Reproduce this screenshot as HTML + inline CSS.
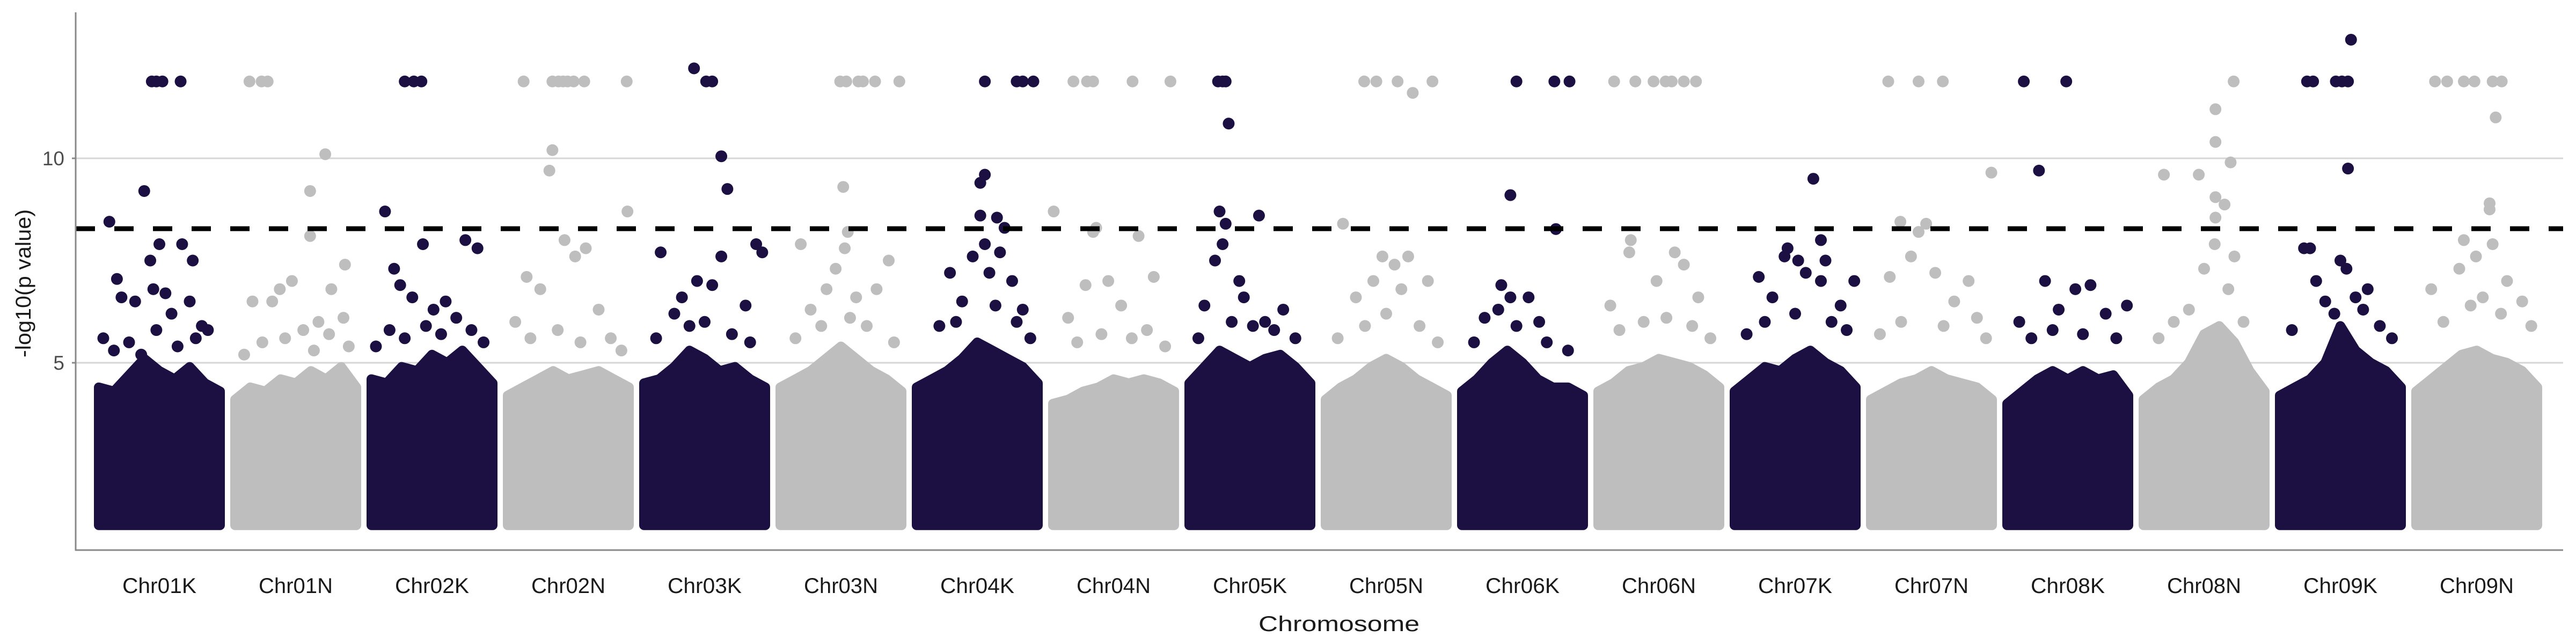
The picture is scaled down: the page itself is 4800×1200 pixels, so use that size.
<!DOCTYPE html>
<html><head><meta charset="utf-8">
<style>
html,body{margin:0;padding:0;background:#fff;}
svg{display:block;font-family:"Liberation Sans",sans-serif;}
</style></head>
<body>
<svg id="chart" width="4800" height="1200" viewBox="0 0 4800 1200" xmlns="http://www.w3.org/2000/svg"></svg>
<script>
const chromosomes = ["Chr01K","Chr01N","Chr02K","Chr02N","Chr03K","Chr03N","Chr04K","Chr04N","Chr05K","Chr05N","Chr06K","Chr06N","Chr07K","Chr07N","Chr08K","Chr08N","Chr09K","Chr09N"];
const yTicks = [5, 10];
const threshold = 8.28;
const capValue = 11.88;
const minValue = 1.0;
// positions are relative within chromosome (0-80 units)
const topHits = [
 [35,38,42,54],[9.5,17.5,21.5],[22,28,33],[10.5,29.5,33.5,36.5,39.5,43.5,50.5,78.5],
 [41,45],[39.5,43.5,51.5,54.5,62.5,78.5],[45,66,70,77],[13.5,22.5,26.5,52.5,77.5],
 [19,22,24],[25.5,33.5,47.5,70.5],[36,61,71],[10.5,24.5,36.5,44.5,48.5,56.5,64.5],
 [],[11.5,31.5,47.5],[11,39],[59.5],[18,22,37,41,45],[12.5,20.5,31.5,38.5,50.5,56.5]
];
const otherHits = [
 [[30,9.2],[7,8.45],[12,7.05],[40,7.9],[55,7.9],[62,7.5],[34,7.5],[36,6.8],[44,6.7],[15,6.6],[60,6.5],[68,5.9],[48,6.2],[24,6.5],[3,5.6],[72,5.8],[10,5.3],[20,5.5],[38,5.8],[52,5.4],[64,5.6],[28,5.2]],
 [[59.5,10.1],[49.5,9.2],[49.5,8.1],[72.5,7.4],[37.5,7.0],[29.5,6.8],[63.5,6.8],[24.5,6.5],[71.5,6.1],[11.5,6.5],[55,6.0],[45,5.8],[18,5.5],[33,5.6],[62,5.7],[75,5.4],[6,5.2],[52,5.3]],
 [[9,8.7],[34,7.9],[70,7.8],[62,8.0],[15,7.3],[19,6.9],[27,6.6],[49,6.5],[41,6.3],[56,6.1],[3,5.4],[12,5.8],[22,5.6],[36,5.9],[46,5.7],[66,5.8],[74,5.5]],
 [[29.5,10.2],[27.5,9.7],[79,8.7],[12.5,7.1],[37.5,8.0],[51.5,7.8],[44.5,7.6],[21.5,6.8],[60,6.3],[5,6.0],[15,5.6],[33,5.8],[48,5.5],[68,5.6],[75,5.3]],
 [[33,12.2],[51,10.05],[55,9.25],[11,7.7],[51,7.6],[74,7.9],[78,7.7],[35,7.0],[25,6.6],[67,6.4],[45,6.9],[20,6.2],[8,5.6],[30,5.9],[40,6.0],[58,5.7],[70,5.5]],
 [[41.5,9.3],[13.5,7.9],[42.5,7.8],[44.5,8.2],[36.5,7.3],[71.5,7.5],[30.5,6.8],[63.5,6.8],[20,6.3],[50,6.6],[10,5.6],[27,5.9],[46,6.1],[57,5.9],[75,5.5]],
 [[45,9.6],[42,9.4],[53,8.55],[58,8.3],[42,8.6],[45,7.9],[37,7.6],[55,7.7],[22,7.2],[63,7.0],[48,7.2],[30,6.5],[70,6.3],[15,5.9],[26,6.0],[52,6.4],[66,6.0],[75,5.6]],
 [[0.5,8.7],[28.5,8.3],[26.5,8.2],[56.5,8.1],[36.5,7.0],[66.5,7.1],[21.5,6.9],[45,6.4],[10,6.1],[16,5.5],[32,5.7],[52,5.6],[62,5.8],[74,5.4]],
 [[26,10.85],[20,8.7],[24,8.4],[46,8.6],[22,7.9],[17,7.5],[33,7.0],[36,6.6],[62,6.3],[10,6.4],[50,6.0],[6,5.6],[28,6.0],[42,5.9],[56,5.8],[70,5.6]],
 [[57.5,11.6],[11.5,8.4],[37.5,7.6],[45.5,7.4],[54.5,7.6],[67.5,7.0],[31.5,7.0],[20,6.6],[50,6.8],[8,5.6],[26,5.9],[40,6.2],[62,5.9],[74,5.5]],
 [[32,9.1],[62,8.27],[26,6.9],[32,6.6],[24,6.3],[44,6.6],[51,6.0],[15,6.1],[8,5.5],[36,5.9],[56,5.5],[70,5.3]],
 [[21.5,8.0],[20.5,7.7],[50.5,7.7],[56.5,7.4],[38.5,7.0],[8,6.4],[66,6.6],[14,5.8],[30,6.0],[45,6.1],[62,5.9],[74,5.6]],
 [[52,9.5],[57,8.0],[42,7.5],[35,7.8],[33,7.6],[47,7.2],[60,7.5],[16,7.1],[79,7.0],[57,7.0],[25,6.6],[70,6.4],[8,5.7],[20,6.0],[40,6.2],[64,6.0],[74,5.8]],
 [[79.5,9.65],[19.5,8.45],[31.5,8.2],[36.5,8.4],[26.5,7.6],[12.5,7.1],[42.5,7.2],[64.5,7.0],[55,6.5],[6,5.7],[20,6.0],[48,5.9],[70,6.1],[76,5.6]],
 [[21,9.7],[25,7.0],[55,6.9],[45,6.8],[34,6.3],[79,6.4],[65,6.2],[8,6.0],[16,5.6],[30,5.8],[50,5.7],[72,5.6]],
 [[47.5,11.2],[47.5,10.4],[57.5,9.9],[13.5,9.6],[36.5,9.6],[47.5,9.05],[53.5,8.87],[47.5,8.55],[47,7.9],[60,7.6],[40,7.3],[20,6.0],[30,6.3],[56,6.8],[66,6.0],[10,5.6]],
 [[47,12.9],[45,9.75],[16,7.8],[20,7.8],[24,7.0],[40,7.5],[44,7.3],[58,6.8],[30,6.5],[55,6.3],[8,5.8],[36,6.2],[50,6.6],[66,5.9],[74,5.6]],
 [[52.5,11.0],[48.5,8.9],[48.5,8.75],[31.5,8.0],[50.5,7.9],[39.5,7.6],[28.5,7.3],[60,7.0],[70,6.5],[10,6.8],[18,6.0],[36,6.4],[44,6.6],[56,6.2],[76,5.9]]
];
// top of the dense solid mass of SNPs, sampled at 9 evenly spaced positions
const denseTop = [
 [4.4,4.3,4.7,5.1,4.8,4.6,4.9,4.5,4.3],[4.1,4.4,4.3,4.6,4.5,4.8,4.6,4.9,4.4],
 [4.6,4.5,4.9,4.8,5.2,5.0,5.3,4.9,4.5],[4.2,4.4,4.6,4.8,4.6,4.7,4.8,4.6,4.4],
 [4.5,4.6,4.9,5.3,5.1,4.8,4.9,4.6,4.4],[4.4,4.6,4.8,5.1,5.4,5.1,4.8,4.6,4.3],
 [4.4,4.6,4.8,5.1,5.5,5.3,5.1,4.9,4.5],[4.0,4.1,4.3,4.4,4.6,4.5,4.6,4.5,4.3],
 [4.5,4.9,5.3,5.1,4.9,5.1,5.2,4.9,4.5],[4.1,4.4,4.6,4.9,5.1,4.9,4.6,4.4,4.2],
 [4.3,4.6,5.0,5.3,5.0,4.6,4.4,4.4,4.2],[4.3,4.5,4.8,4.9,5.1,5.0,4.9,4.7,4.4],
 [4.3,4.6,4.9,4.8,5.1,5.3,5.0,4.8,4.4],[4.1,4.3,4.5,4.6,4.8,4.6,4.5,4.4,4.1],
 [4.0,4.3,4.6,4.8,4.6,4.8,4.6,4.7,4.2],[4.1,4.4,4.6,5.0,5.7,5.9,5.5,4.8,4.3],
 [4.2,4.4,4.6,5.0,5.9,5.3,5.0,4.8,4.4],[4.3,4.6,4.9,5.2,5.3,5.1,5.0,4.8,4.4]
];

const NS="http://www.w3.org/2000/svg";
const svg=document.getElementById('chart');
const X0=184, CW=254, CSPAN=226, POSMAX=80;
function yScale(v){return 1057-76.2*v;}
function xScale(ci,pos){return X0+CW*ci+Math.max(0,Math.min(POSMAX,pos))/POSMAX*CSPAN;}
function chromCenter(ci){return X0+CW*ci+CSPAN/2;}
function mk(tag,attrs){const e=document.createElementNS(NS,tag);for(const k in attrs)e.setAttribute(k,attrs[k]);return e;}
const DARK="#1c0f42", GREY="#bebebe", R=11;

yTicks.forEach(t=>{
  const g=mk('line',{x1:141,x2:4776,y1:yScale(t),y2:yScale(t),stroke:'#d6d6d6','stroke-width':3});
  
  
  svg.appendChild(g);
});

chromosomes.forEach((name,ci)=>{
  const col = ci%2===0?DARK:GREY;
  const grp=mk('g',{fill:col});
  
  
  const tops=denseTop[ci];
  let d='M'+xScale(ci,0).toFixed(1)+','+(yScale(minValue)-2);
  tops.forEach((v,k)=>{d+=' L'+xScale(ci,k*POSMAX/(tops.length-1)).toFixed(1)+','+yScale(v).toFixed(1);});
  d+=' L'+xScale(ci,POSMAX).toFixed(1)+','+(yScale(minValue)-2)+' Z';
  const poly=mk('path',{d:d,stroke:col,'stroke-width':2*R-4,'stroke-linejoin':'round'});
  
  
  grp.appendChild(poly);
  otherHits[ci].forEach(p=>{
    const c=mk('circle',{cx:xScale(ci,p[0]),cy:yScale(p[1]),r:R});
    
    
    grp.appendChild(c);
  });
  topHits[ci].forEach(p=>{
    const c=mk('circle',{cx:xScale(ci,p),cy:yScale(capValue),r:R});
    
    
    grp.appendChild(c);
  });
  svg.appendChild(grp);
  const t=mk('text',{x:chromCenter(ci),y:1105,'text-anchor':'middle','font-size':40,fill:'#1a1a1a',textLength:138,lengthAdjust:'spacingAndGlyphs'});
  t.textContent=name;
  
  
  svg.appendChild(t);
});

const th=mk('line',{x1:141,x2:4776,y1:yScale(threshold),y2:yScale(threshold),stroke:'#000','stroke-width':9,'stroke-dasharray':'36 36'});


svg.appendChild(th);

const ya=mk('line',{x1:141,x2:141,y1:23,y2:1026,stroke:'#888','stroke-width':3});


svg.appendChild(ya);
const xa=mk('line',{x1:140,x2:4776,y1:1025,y2:1025,stroke:'#888','stroke-width':3});


svg.appendChild(xa);
yTicks.forEach(t=>{
  const tk=mk('line',{x1:134,x2:141,y1:yScale(t),y2:yScale(t),stroke:'#888','stroke-width':3});
  
  
  svg.appendChild(tk);
  const tl=mk('text',{x:120,y:yScale(t)+13,'text-anchor':'end','font-size':37,fill:'#4d4d4d'});
  tl.textContent=String(t);
  
  
  svg.appendChild(tl);
});
const xt=mk('text',{x:2495,y:1176,'text-anchor':'middle','font-size':40,fill:'#1a1a1a',textLength:300,lengthAdjust:'spacingAndGlyphs'});
xt.textContent='Chromosome';


svg.appendChild(xt);
const yt=mk('text',{x:0,y:0,'text-anchor':'middle','font-size':40,fill:'#1a1a1a',transform:'translate(57,528) rotate(-90)',textLength:276,lengthAdjust:'spacingAndGlyphs'});
yt.textContent='-log10(p value)';


svg.appendChild(yt);
</script>
</body></html>
